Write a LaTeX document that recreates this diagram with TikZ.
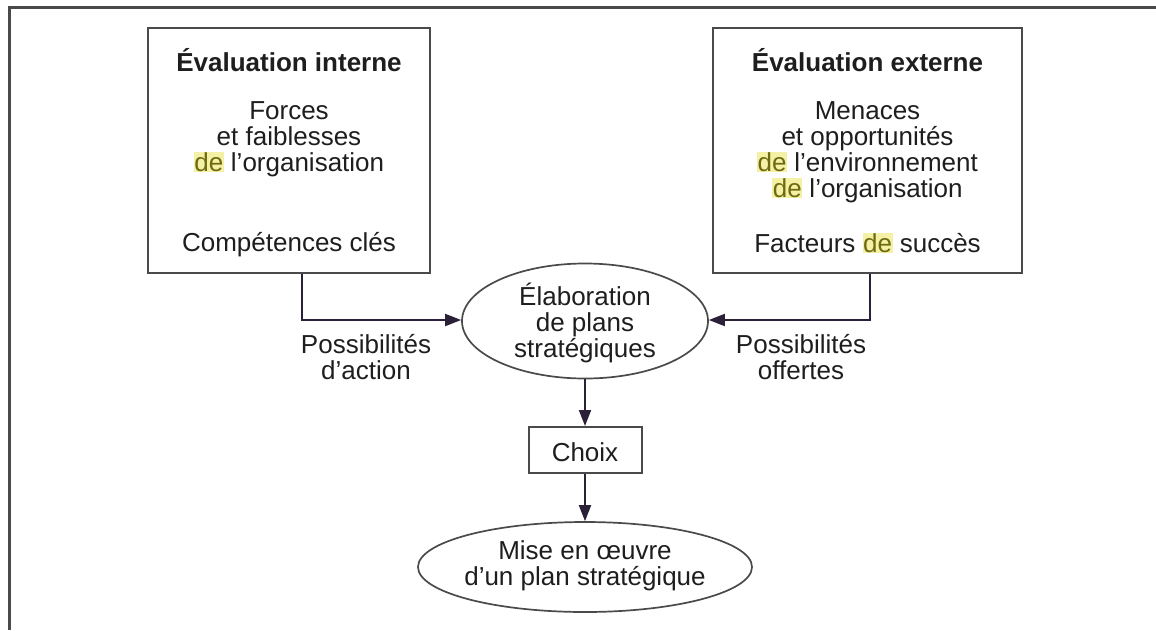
\documentclass[tikz,border=0pt]{standalone}
\usepackage{fontspec}
\setmainfont{Liberation Sans}
\usetikzlibrary{shapes.geometric,arrows.meta}
\definecolor{ink}{HTML}{1E1E1E}
\definecolor{frameline}{HTML}{4A4A4A}
\definecolor{arrowink}{HTML}{2A2038}
\definecolor{hlback}{HTML}{F4F1A6}
\definecolor{hltext}{HTML}{6E6A10}
\newcommand{\hlde}{{\setlength{\fboxsep}{0.5pt}\colorbox{hlback}{\textcolor{hltext}{de}}}}
\tikzset{
  txt/.style={inner sep=0pt, align=center, text=ink, font=\fontsize{26}{26}\selectfont},
  ttl/.style={txt, font=\fontsize{26}{26}\selectfont\bfseries},
  panel/.style={draw=frameline, line width=2pt, inner sep=0pt},
  oval/.style={draw=frameline, line width=1.7pt, ellipse, inner sep=0pt},
  link/.style={draw=frameline, line width=1.9pt, -{Triangle[length=16pt,width=12pt]}, arrowink},
}
\begin{document}
\begin{tikzpicture}[x=1pt,y=-1pt]
\useasboundingbox (0,0) rectangle (1156,630);
\fill[white] (0,0) rectangle (1156,630);
% page frame (top and left rules)
\draw[frameline, line width=3pt] (1156,7) -- (9,7) -- (9,630);

% internal assessment
\node[panel, minimum width=282pt, minimum height=245pt] (lbox) at (289,150.5) {};
\node[ttl] (ltitle) at (289,60) {Évaluation interne};
\node[txt] (lbody) at (289,139) {Forces\\et faiblesses\\\hlde{} l'organisation};
\node[txt] (lkey) at (289,245) {Compétences clés};

% external assessment
\node[panel, minimum width=309pt, minimum height=245pt] (rbox) at (867.5,150.5) {};
\node[ttl] (rtitle) at (867.5,60) {Évaluation externe};
\node[txt] (rbody) at (867.5,152) {Menaces\\et opportunités\\\hlde{} l'environnement\\\hlde{} l'organisation};
\node[txt] (rkey) at (867.5,243) {Facteurs \hlde{} succès};

% strategy elaboration and choice
\node[oval, minimum width=246pt, minimum height=115pt] (elab) at (585,321) {};
\node[txt] (elabtxt) at (585,323) {Élaboration\\de plans\\stratégiques};
\node[panel, minimum width=113pt, minimum height=46pt] (choix) at (585,450) {};
\node[txt] (choixtxt) at (585,452) {Choix};
\node[oval, minimum width=334pt, minimum height=90pt] (mise) at (585,567) {};
\node[txt] (misetxt) at (585,566) {Mise en œuvre\\d'un plan stratégique};

% side labels
\node[txt] (laction) at (366,357) {Possibilités\\d'action};
\node[txt] (loffre) at (801,357) {Possibilités\\offertes};

% connectors
\draw[link] ([xshift=13pt]lbox.south) |- ([yshift=1pt]elab.west);
\draw[link] ([xshift=2.5pt]rbox.south) |- ([yshift=1pt]elab.east);
\draw[link] (elab.south) -- (choix.north);
\draw[link] (choix.south) -- (mise.north);
\end{tikzpicture}
\end{document}
